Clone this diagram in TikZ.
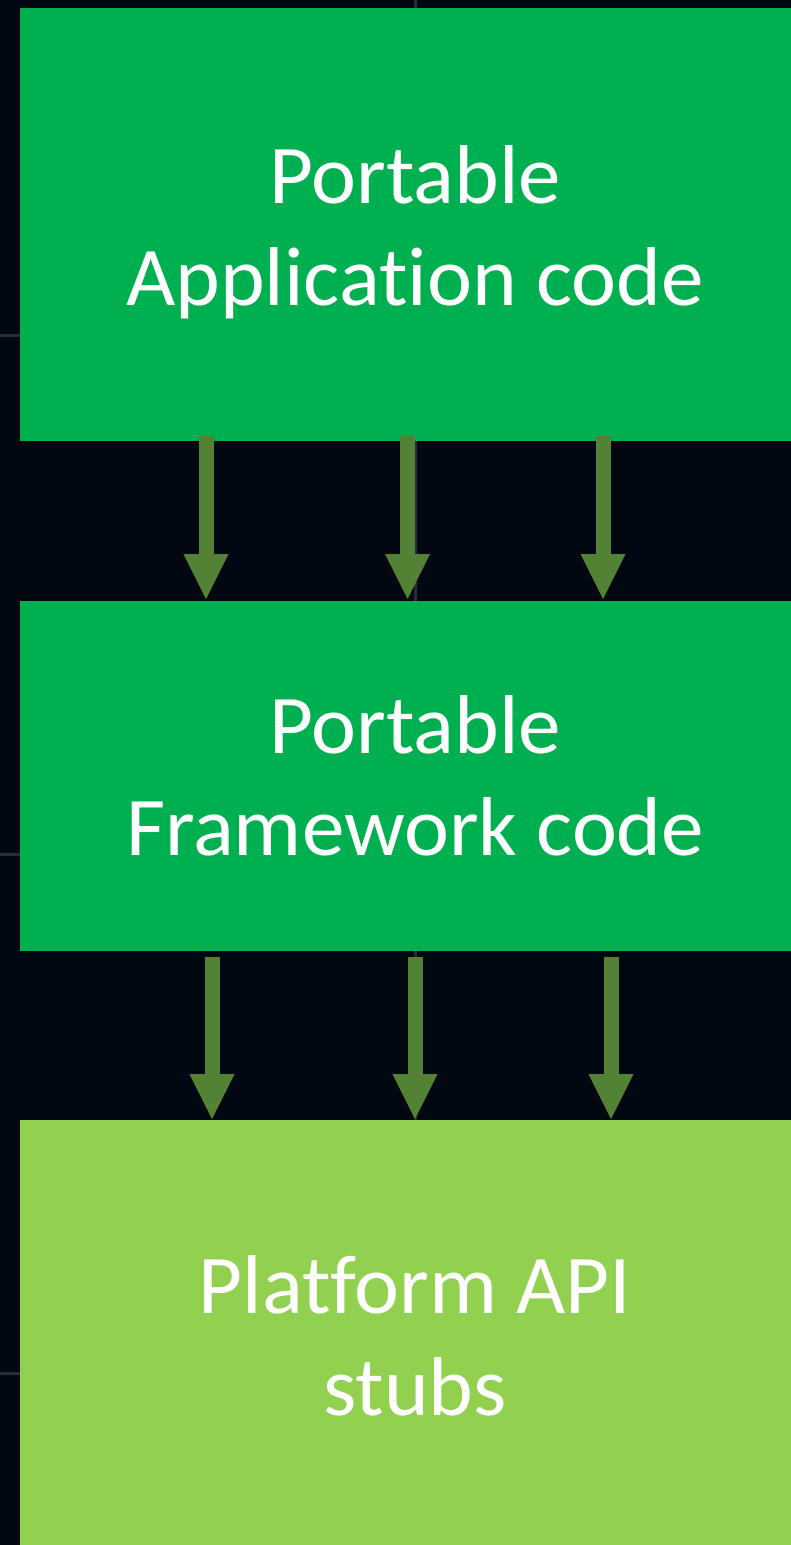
\documentclass[tikz,border=0pt]{standalone}
\usepackage{fontspec}
\setmainfont{Carlito}[Ligatures=NoCommon]
\usetikzlibrary{arrows.meta}

\definecolor{bgdark}{RGB}{2,8,18}
\definecolor{gridline}{RGB}{40,44,54}
\definecolor{layergreen}{RGB}{0,176,80}
\definecolor{stubgreen}{RGB}{146,208,80}
\definecolor{flowgreen}{RGB}{84,130,53}

\tikzset{
  layer/.style={draw=none, inner sep=0pt, anchor=north west},
  lbl/.style={text=white, align=center, inner sep=0pt,
    xscale=1.02, transform shape,
    font=\fontsize{83.5}{102}\selectfont},
  flow/.style={draw=flowgreen, line width=15pt,
    -{Triangle[width=45pt, length=45pt, line width=0pt]}, fill=flowgreen},
  guide/.style={draw=gridline, line width=3pt}
}

\begin{document}
\begin{tikzpicture}[x=1pt, y=-1pt]
  \useasboundingbox (0,0) rectangle (791,1545);
  \fill[bgdark] (0,0) rectangle (791,1545);

  % faint guide lines behind the layers
  \draw[guide] (415.5,0) -- (415.5,1545);
  \foreach \gy in {335,854,1373} \draw[guide] (0,\gy) -- (30,\gy);

  % layer boxes
  \node[layer, fill=layergreen, minimum width=800pt, minimum height=433pt] (app) at (20,8) {};
  \node[layer, fill=layergreen, minimum width=800pt, minimum height=350pt] (fw) at (20,601) {};
  \node[layer, fill=stubgreen, minimum width=800pt, minimum height=440pt] (api) at (20,1120) {};

  % layer captions (base anchor sits on the last line)
  \node[lbl, anchor=base] (appT) at (415,305) {Portable\\Application code};
  \node[lbl, anchor=base] (fwT) at (415,855) {Portable\\Framework code};
  \node[lbl, anchor=base] (apiT) at (415,1415) {Platform API\\stubs};

  % connector end points
  \foreach \i/\x in {1/206, 2/407.5, 3/603} {
    \coordinate (a\i s) at (\x,436);
    \coordinate (a\i e) at (\x,599);
  }
  \foreach \i/\x in {1/212, 2/415, 3/611} {
    \coordinate (b\i s) at (\x,957);
    \coordinate (b\i e) at (\x,1119);
  }

  % calls from one layer down to the next
  \foreach \i in {1,2,3} {
    \draw[flow] (a\i s) -- (a\i e);
    \draw[flow] (b\i s) -- (b\i e);
  }
\end{tikzpicture}
\end{document}
